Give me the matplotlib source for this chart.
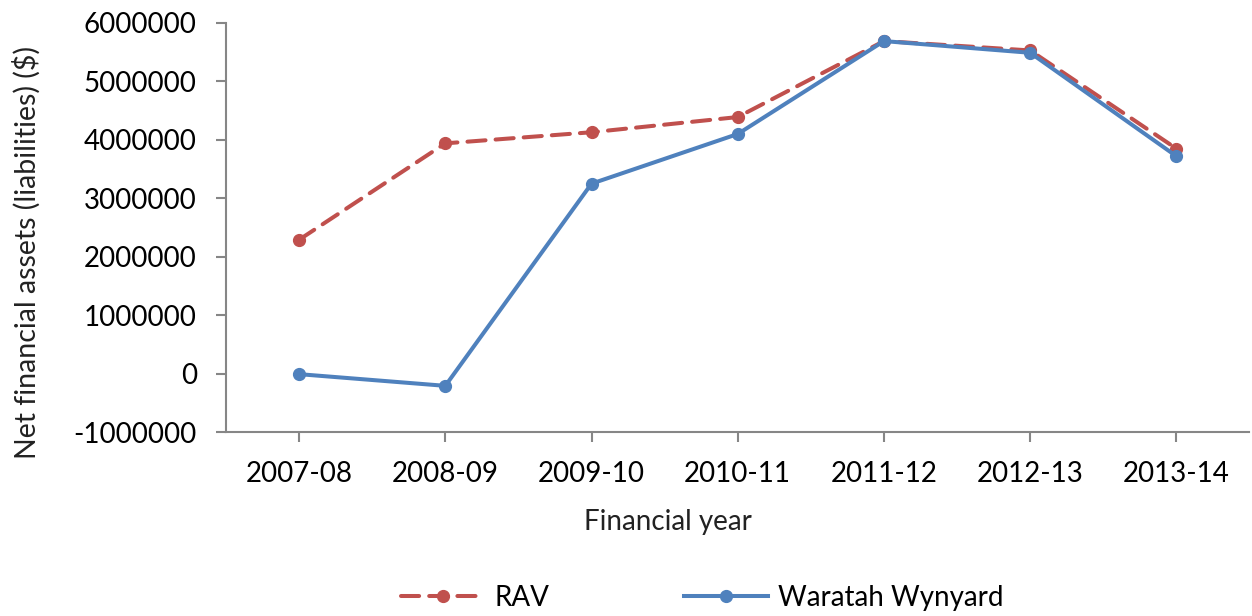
import numpy as np
import matplotlib.pyplot as plt

# 数据
years = ["2007-08", "2008-09", "2009-10", "2010-11", "2011-12", "2012-13", "2013-14"]
rav = [2290000, 3940000, 4130000, 4390000, 5690000, 5530000, 3850000]
waratah = [-10000, -210000, 3250000, 4100000, 5690000, 5490000, 3720000]
yticks = [-1000000, 0, 1000000, 2000000, 3000000, 4000000, 5000000, 6000000]

plt.rcParams['font.family'] = ['Lato', 'DejaVu Sans']

fig = plt.figure(figsize=(12.52, 6.16), dpi=100)
ax = fig.add_axes([0.1805, 0.2987, 0.8175, 0.664])

x = np.arange(len(years))
ax.plot(x, rav, color='#C0504D', lw=2.9, dashes=(4.5, 2.5), dash_capstyle='round',
        marker='o', ms=8.5, label='RAV')
ax.plot(x, waratah, color='#4F81BD', lw=2.9, marker='o', ms=8.5,
        label='Waratah Wynyard')

ax.set_xlim(-0.5, len(years) - 0.5)
ax.set_ylim(-1000000, 6000000)
ax.set_yticks(yticks)
ax.set_yticklabels([str(v) for v in yticks])
ax.set_xticks(x)
ax.set_xticklabels(years)

for s in ['top', 'right']:
    ax.spines[s].set_visible(False)
for s in ['left', 'bottom']:
    ax.spines[s].set_color('#868686')
    ax.spines[s].set_linewidth(1.5)
ax.tick_params(axis='both', colors='#868686', length=7, width=1.5,
               labelcolor='black', labelsize=20)
ax.tick_params(axis='y', pad=14)
ax.tick_params(axis='x', pad=14)

ax.set_ylabel("Net financial assets (liabilities) ($)", fontsize=20.5,
              color='#222222', labelpad=24)
ax.set_xlabel("Financial year", fontsize=20, color='#222222', labelpad=16)
# Excel 的轴标题没有居中
ax.yaxis.label.set_y(0.44)
ax.xaxis.label.set_x(0.432)

fig.legend(loc='center', bbox_to_anchor=(0.561, 0.029), ncol=2, frameon=False,
           fontsize=20, handlelength=3.0, handletextpad=0.36, columnspacing=4.85)

plt.savefig("out.png", dpi=100)
